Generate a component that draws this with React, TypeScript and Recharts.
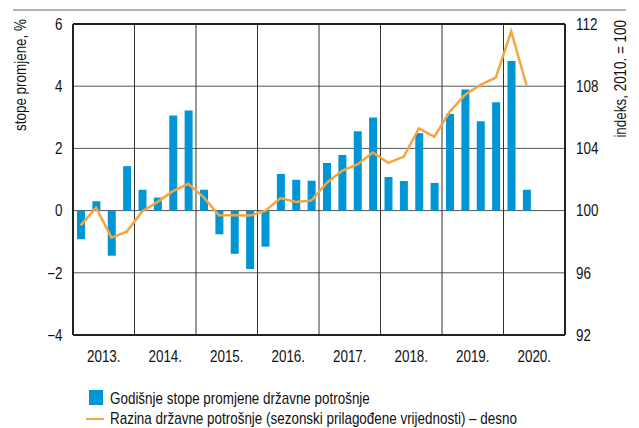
import React from 'react';
import {
  Bar,
  CartesianGrid,
  ComposedChart,
  Line,
  ReferenceLine,
  XAxis,
  YAxis,
} from 'recharts';

// quarterly data, 2013 Q1 - 2020 Q2
const quarters = [
  '2013Q1', '2013Q2', '2013Q3', '2013Q4',
  '2014Q1', '2014Q2', '2014Q3', '2014Q4',
  '2015Q1', '2015Q2', '2015Q3', '2015Q4',
  '2016Q1', '2016Q2', '2016Q3', '2016Q4',
  '2017Q1', '2017Q2', '2017Q3', '2017Q4',
  '2018Q1', '2018Q2', '2018Q3', '2018Q4',
  '2019Q1', '2019Q2', '2019Q3', '2019Q4',
  '2020Q1', '2020Q2',
];

const growthRates = [
  -0.92, 0.3, -1.45, 1.43,
  0.67, 0.42, 3.06, 3.22,
  0.67, -0.76, -1.39, -1.88,
  -1.16, 1.18, 0.99, 0.96,
  1.53, 1.79, 2.55, 2.99,
  1.08, 0.95, 2.49, 0.89,
  3.11, 3.89, 2.87, 3.48,
  4.81, 0.67,
];

const indexLevels = [
  99.05, 100.19, 98.26, 98.65,
  99.95, 100.56, 101.25, 101.72,
  100.85, 99.7, 99.7, 99.68,
  99.98, 100.8, 100.56, 100.65,
  101.78, 102.56, 102.97, 103.74,
  103.07, 103.46, 105.28, 104.75,
  106.36, 107.46, 108.08, 108.55,
  111.52, 108.06,
];

const yearLabels = ['2013.', '2014.', '2015.', '2016.', '2017.', '2018.', '2019.', '2020.'];
const leftTicks = [-4, -2, 0, 2, 4, 6];
const rightTicks = [92, 96, 100, 104, 108, 112];

const BLUE = '#0096d6';
const ORANGE = '#f6a53e';
const TEXT = '#111';
// no narrow font installed: squeeze Liberation Sans instead
const FONT = '"Liberation Sans", Arial, sans-serif';
const SQUEEZE = 0.84;

const data = quarters.map((q, i) => ({
  x: i + 0.5,
  quarter: q,
  rate: growthRates[i],
  level: indexLevels[i],
}));

const yearTicks = yearLabels.map((_, i) => i * 4 + 2);
const yearBounds = [4, 8, 12, 16, 20, 24, 28];

const fmtLeft = (v: number) => (v < 0 ? '\u2212' + Math.abs(v) : String(v));

// text squeezed horizontally around its anchor point
const Narrow = ({ x, y, anchor = 'start', rotate = 0, children }: any) => (
  <g transform={`translate(${x},${y}) rotate(${rotate}) scale(${SQUEEZE},1)`}>
    <text x={0} y={0} textAnchor={anchor} fontSize={16} fill={TEXT} fontFamily={FONT}>
      {children}
    </text>
  </g>
);

const XTick = ({ x, payload }: any) => (
  <Narrow x={x} y={362} anchor="middle">
    {yearLabels[(payload.value - 2) / 4]}
  </Narrow>
);

const LeftTick = ({ y, payload }: any) => (
  <Narrow x={62.5} y={y + 5.8} anchor="end">
    {fmtLeft(payload.value)}
  </Narrow>
);

const RightTick = ({ y, payload }: any) => (
  <Narrow x={576} y={y + 5.8} anchor="start">
    {payload.value}
  </Narrow>
);

const Overlay = () => (
  <svg width={639} height={428} style={{ position: 'absolute', left: 0, top: 0, pointerEvents: 'none' }}>
    <line x1={13} x2={626} y1={10} y2={10} stroke="#666" strokeWidth={1} />
    <Narrow x={26} y={19} rotate={-90} anchor="end">stope promjene, %</Narrow>
    <Narrow x={626} y={20} rotate={-90} anchor="end">indeks, 2010. = 100</Narrow>
    {/* legend */}
    <rect x={89} y={390} width={14} height={15} fill={BLUE} />
    <Narrow x={110} y={404}>Godišnje stope promjene državne potrošnje</Narrow>
    <line x1={86} x2={104} y1={419} y2={419} stroke={ORANGE} strokeWidth={2} />
    <Narrow x={110} y={424}>Razina državne potrošnje (sezonski prilagođene vrijednosti) – desno</Narrow>
  </svg>
);

const App = () => (
  <div style={{ position: 'absolute', left: 0, top: 0, width: 639, height: 428, overflow: 'hidden', background: '#fff' }}>
    <ComposedChart
      width={639}
      height={428}
      data={data}
      margin={{ top: 24, right: 14, left: 13, bottom: 63 }}
    >
      <CartesianGrid yAxisId="left" vertical={false} stroke="#555" strokeWidth={1} />
      <XAxis
        type="number"
        dataKey="x"
        domain={[0, 32]}
        ticks={yearTicks}
        interval={0}
        height={30}
        tickLine={false}
        tickSize={0}
        axisLine={{ stroke: '#222', strokeWidth: 2 }}
        tick={<XTick />}
      />
      <YAxis
        yAxisId="left"
        domain={[-4, 6]}
        ticks={leftTicks}
        width={60}
        tickLine={false}
        tickSize={0}
        axisLine={{ stroke: '#222', strokeWidth: 2 }}
        tick={<LeftTick />}
      />
      <YAxis
        yAxisId="right"
        orientation="right"
        domain={[92, 112]}
        ticks={rightTicks}
        width={60}
        tickLine={false}
        tickSize={0}
        axisLine={{ stroke: '#222', strokeWidth: 2 }}
        tick={<RightTick />}
      />
      {yearBounds.map((b) => (
        <ReferenceLine key={b} yAxisId="left" x={b} stroke="#333" strokeWidth={1} />
      ))}
      <ReferenceLine yAxisId="left" y={6} stroke="#222" strokeWidth={2} />
      <Bar yAxisId="left" dataKey="rate" fill={BLUE} barSize={8} isAnimationActive={false} />
      <Line
        yAxisId="right"
        dataKey="level"
        type="linear"
        stroke={ORANGE}
        strokeWidth={2.5}
        dot={false}
        isAnimationActive={false}
      />
    </ComposedChart>
    <Overlay />
  </div>
);

export default App;
